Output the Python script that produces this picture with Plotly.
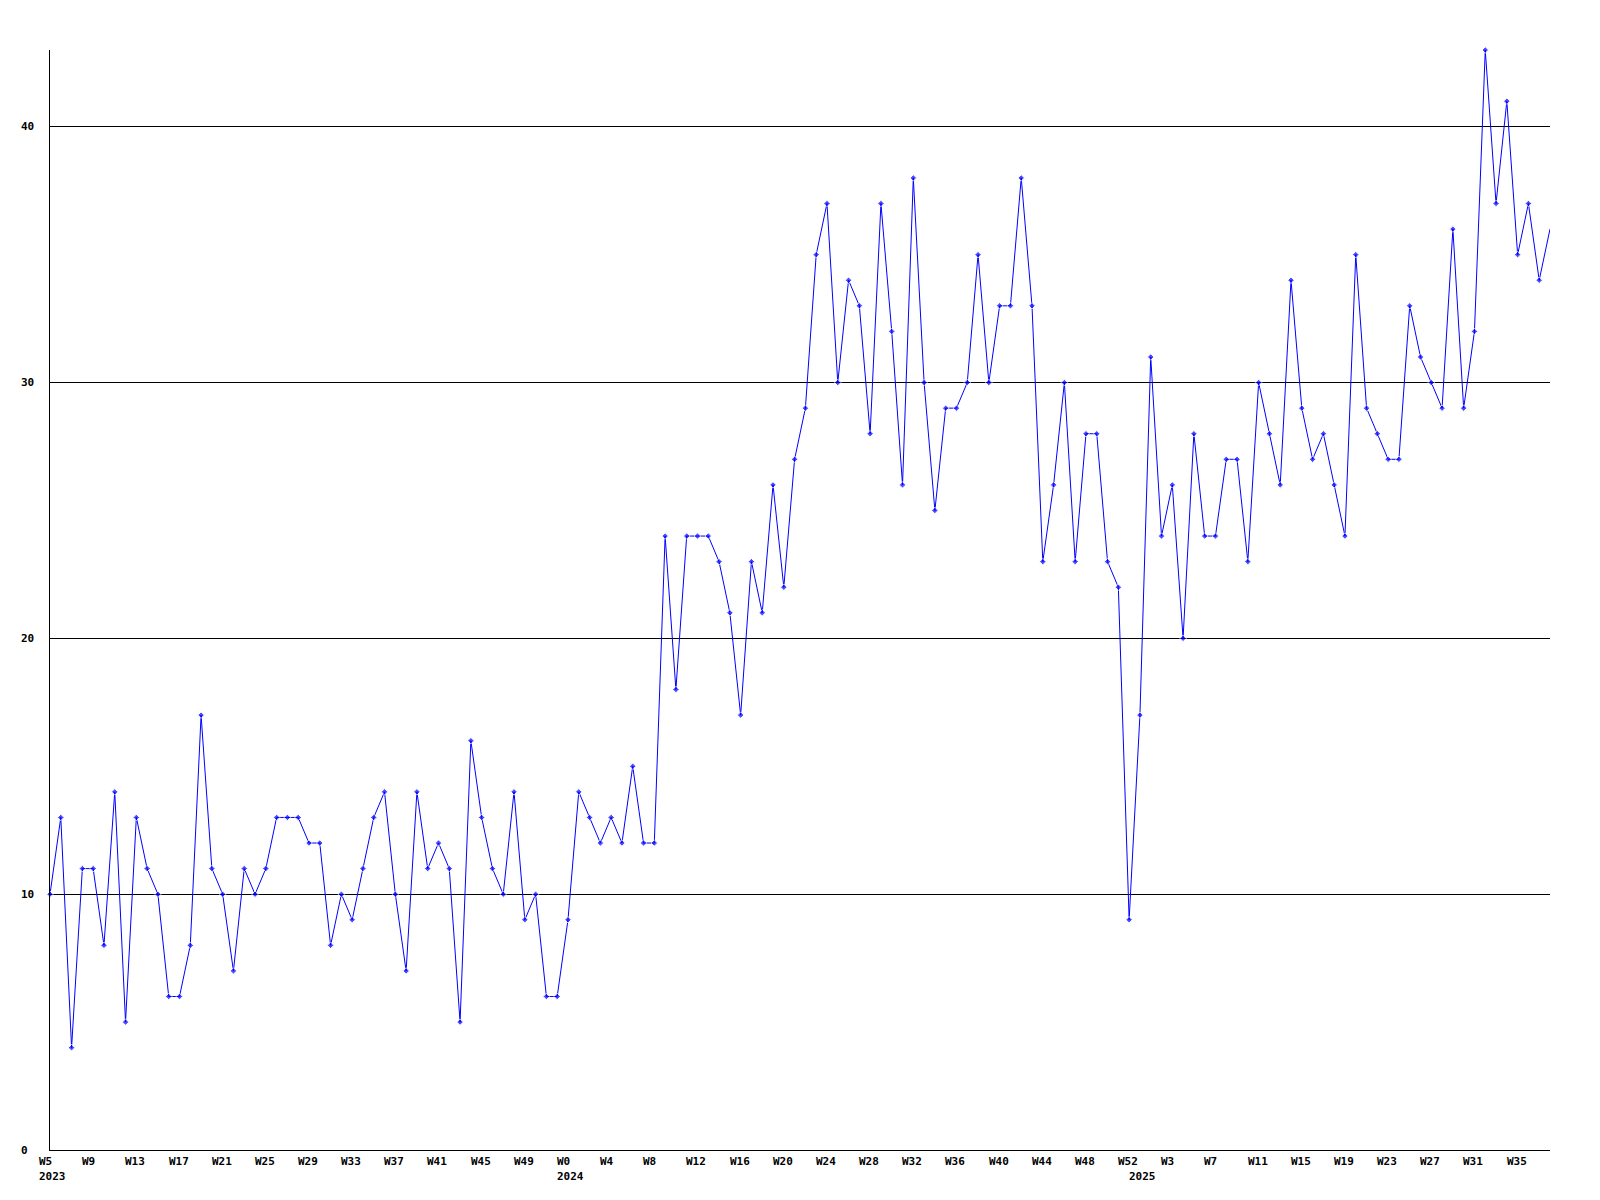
import plotly.graph_objects as go

# ---- data ----
weeks_2023 = list(range(5, 53))   # 2023 W5 .. W52
weeks_2024 = list(range(0, 53))   # 2024 W0 .. W52
weeks_2025 = list(range(0, 39))   # 2025 W0 .. W38

values_2023 = [10, 13, 4, 11, 11, 8, 14, 5, 13, 11, 10, 6, 6, 8, 17, 11, 10, 7, 11, 10,
               11, 13, 13, 13, 12, 12, 8, 10, 9, 11, 13, 14, 10, 7, 14, 11, 12, 11, 5, 16,
               13, 11, 10, 14, 9, 10, 6, 6]
values_2024 = [9, 14, 13, 12, 13, 12, 15, 12, 12, 24, 18, 24, 24, 24, 23, 21, 17, 23, 21, 26,
               22, 27, 29, 35, 37, 30, 34, 33, 28, 37, 32, 26, 38, 30, 25, 29, 29, 30, 35, 30,
               33, 33, 38, 33, 23, 26, 30, 23, 28, 28, 23, 22, 9]
values_2025 = [17, 31, 24, 26, 20, 28, 24, 24, 27, 27, 23, 30, 28, 26, 34, 29, 27, 28, 26, 24,
               35, 29, 28, 27, 27, 33, 31, 30, 29, 36, 29, 32, 43, 37, 41, 35, 37, 34, 36]

y_ticks = [0, 10, 20, 30, 40]

# ---- build categories ----
cats, week_of, year_of, values = [], [], [], []
for yr, wks, vals in [(2023, weeks_2023, values_2023),
                      (2024, weeks_2024, values_2024),
                      (2025, weeks_2025, values_2025)]:
    for w, v in zip(wks, vals):
        cats.append(f"{yr}-W{w:02d}")
        week_of.append(w)
        year_of.append(yr)
        values.append(v)

FONT = dict(family="DejaVu Sans Mono", size=11, color="black")

# the final (current, partial) week is drawn without a marker
marker_sizes = [5] * (len(values) - 1) + [0]

fig = go.Figure()
fig.add_trace(go.Scatter(
    x=cats, y=values, mode="lines+markers",
    line=dict(color="#0000ff", width=1),
    marker=dict(symbol="diamond", size=marker_sizes, color="#0000ff"),
    cliponaxis=False, hoverinfo="skip", showlegend=False,
))

annotations = []
# week labels every 4th point
for i in range(0, len(cats), 4):
    annotations.append(dict(
        x=cats[i], xref="x", y=0, yref="paper",
        text=f"<b>W{week_of[i]}</b>", showarrow=False,
        xanchor="left", yanchor="top", xshift=-12, yshift=-4,
        font=FONT, borderpad=0,
    ))
# year labels at first week of each year
for i in range(len(cats)):
    if i == 0 or year_of[i] != year_of[i - 1]:
        annotations.append(dict(
            x=cats[i], xref="x", y=0, yref="paper",
            text=f"<b>{year_of[i]}</b>", showarrow=False,
            xanchor="left", yanchor="top", xshift=-12, yshift=-19,
            font=FONT, borderpad=0,
        ))
# y labels, left aligned
for v in y_ticks:
    annotations.append(dict(
        x=0, xref="paper", y=v, yref="y",
        text=f"<b>{v}</b>", showarrow=False,
        xanchor="left", yanchor="middle", xshift=-30,
        font=FONT, borderpad=0,
    ))

fig.update_layout(
    width=1600, height=1200,
    margin=dict(l=50, r=50, t=50, b=50),
    paper_bgcolor="white", plot_bgcolor="white",
    annotations=annotations,
    xaxis=dict(type="category", range=[0, len(cats) - 1], showgrid=False,
               showline=True, linecolor="black", linewidth=1,
               showticklabels=False, ticks="", zeroline=False),
    yaxis=dict(range=[0, 43], tickvals=y_ticks, showticklabels=False,
               showgrid=True, gridcolor="black", gridwidth=1,
               showline=True, linecolor="black", linewidth=1,
               ticks="", zeroline=False),
)

fig.write_html("out.html", config={"displayModeBar": False},
               post_script="document.body.style.margin='0';")
